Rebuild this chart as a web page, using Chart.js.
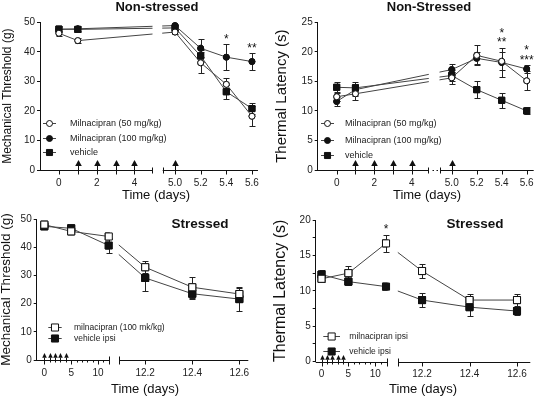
<!DOCTYPE html>
<html><head><meta charset="utf-8">
<script src="https://cdn.jsdelivr.net/npm/chart.js@4"></script>
<style>
html,body{margin:0;padding:0;background:#fff;}
#wrap{position:relative;width:540px;height:398px;overflow:hidden;}
canvas{position:absolute;left:0;top:0;}
</style></head><body>
<div id="wrap">
<canvas id="tl" width="540" height="398"></canvas>
<canvas id="tr" width="540" height="398"></canvas>
<canvas id="bl" width="540" height="398"></canvas>
<canvas id="br" width="540" height="398"></canvas>
</div>
<script>
// ---------------- data ----------------
const daysNS = [0, 1, 5.0, 5.2, 5.4, 5.6];
const mechNS_mil50      = [46.3, 43.8, 46.7, 36.3, 29.0, 18.2];
const mechNS_mil50_sem  = [0.9, 0.8, 0.8, 3.5, 2.0, 3.3];
const mechNS_mil100     = [47.6, 47.8, 48.9, 41.2, 38.2, 36.7];
const mechNS_mil100_sem = [0.8, 0.8, 0.6, 3.0, 4.3, 2.8];
const mechNS_veh        = [47.7, 47.6, 48.1, 38.6, 26.5, 20.8];
const mechNS_veh_sem    = [1.0, 0.8, 0.7, 2.0, 2.4, 2.0];

const thermNS_mil50      = [12.4, 12.9, 15.6, 19.4, 18.4, 15.1];
const thermNS_mil50_sem  = [0.8, 1.1, 1.0, 1.7, 1.5, 1.6];
const thermNS_mil100     = [11.6, 13.6, 17.0, 18.9, 18.2, 17.1];
const thermNS_mil100_sem = [0.7, 1.0, 1.0, 1.0, 2.5, 0.6];
const thermNS_veh        = [14.0, 13.9, 16.0, 13.6, 11.8, 10.0];
const thermNS_veh_sem    = [0.9, 1.0, 1.0, 1.4, 1.3, 0.6];

const daysS = [0, 5, 12, 12.2, 12.4, 12.6];
const mechS_mil     = [48.0, 45.6, 43.8, 32.9, 25.8, 23.4];
const mechS_mil_sem = [0.8, 1.0, 1.0, 2.2, 3.8, 2.3];
const mechS_veh     = [47.4, 46.7, 40.6, 29.1, 23.5, 21.6];
const mechS_veh_sem = [0.7, 0.8, 2.5, 4.7, 1.8, 4.2];

const thermS_mil     = [11.7, 12.5, 16.7, 12.8, 8.7, 8.7];
const thermS_mil_sem = [0.5, 0.95, 1.2, 1.0, 0.9, 0.8];
const thermS_veh     = [12.3, 11.3, 10.6, 8.7, 7.7, 7.15];
const thermS_veh_sem = [0.7, 0.5, 0.2, 0.95, 1.25, 0.5];

const xTicksNS  = [0, 1, 2, 3, 4, 5.0, 5.2, 5.4, 5.6];
const xLabelsNS = ['0', '', '2', '', '4', '5.0', '5.2', '5.4', '5.6'];
const xTicksS   = [0, 5, 10, 12.2, 12.4, 12.6];
const xLabelsS  = ['0', '5', '10', '12.2', '12.4', '12.6'];
const xMinorS   = [1, 2, 3, 4, 6, 7, 8, 9, 11];

const injectionDaysNS = [1, 2, 3, 4, 5.0];
const injectionDaysS  = [0, 1, 2, 3, 4];

const sigMechNS  = [{day: 5.4, marks: ['*']}, {day: 5.6, marks: ['**']}];
const sigThermNS = [{day: 5.4, marks: ['**', '*']}, {day: 5.6, marks: ['***', '*']}];
const sigThermS  = [{day: 12, marks: ['*']}];

// ---------------- styles / layout ----------------
const FONT = "'Liberation Sans', Arial, Helvetica, sans-serif";
Chart.defaults.font.family = FONT;
Chart.defaults.color = '#111';

const ST = {
  openCircle:   {pointStyle: 'circle', pointRadius: 3, pointBackgroundColor: '#fff'},
  filledCircle: {pointStyle: 'circle', pointRadius: 3, pointBackgroundColor: '#111'},
  smallSquare:  {pointStyle: 'rect',   pointRadius: 4.3, pointBackgroundColor: '#111'},
  openSquare:   {pointStyle: 'rect',   pointRadius: 5,   pointBackgroundColor: '#fff'},
  filledSquare: {pointStyle: 'rect',   pointRadius: 5,   pointBackgroundColor: '#111'}
};
function series(label, xs, ys, sem, style) {
  return Object.assign({
    label, sem,
    data: xs.map((x, i) => ({x, y: ys[i]})),
    borderColor: '#444', borderWidth: 1, pointBorderColor: '#111', pointBorderWidth: 1,
    fill: false, tension: 0, showLine: true
  }, style);
}

const PANELS = {
  tl: {
    panelLeft: 0, area: {left: 40, right: 258, top: 22.3, bottom: 170},
    segs: [{min: -1.0, max: 4.93, from: 0, to: 112}, {min: 4.904, max: 5.647, from: 122.7, to: 218}],
    breakH: 3, breakDots: false,
    yMin: 0, yMax: 50, yStep: 10, yEvery: 10,
    yTitle: 'Mechanical Threshold (g)', yTitleSize: 12, yTitlePad: 1.5,
    xTicks: xTicksNS, xLabels: xLabelsNS, xMinor: [],
    arrows: injectionDaysNS, arrow: {tip: 10.5, base: 4.5, half: 3.3},
    title: {text: 'Non-stressed', x: 157, y: 7, size: 13},
    xTitle: {x: 156, y: 195},
    legend: {x1: 43, x2: 56, tx: 70, rows: [122.7, 137.7, 152], size: 9},
    sig: sigMechNS,
    datasets: [
      series('Milnacipran (50 mg/kg)', daysNS, mechNS_mil50, mechNS_mil50_sem, ST.openCircle),
      series('Milnacipran (100 mg/kg)', daysNS, mechNS_mil100, mechNS_mil100_sem, ST.filledCircle),
      series('vehicle', daysNS, mechNS_veh, mechNS_veh_sem, ST.smallSquare)
    ]
  },
  tr: {
    panelLeft: 270, area: {left: 317.7, right: 533.7, top: 22.3, bottom: 170},
    segs: [{min: -1.013, max: 4.885, from: 0, to: 110.6}, {min: 4.906, max: 5.656, from: 122.3, to: 216}],
    breakH: 3, breakDots: true,
    yMin: 0, yMax: 25, yStep: 5, yEvery: 5,
    yTitle: 'Thermal Latency (s)', yTitleSize: 15, yTitlePad: 4.2,
    xTicks: xTicksNS, xLabels: xLabelsNS, xMinor: [],
    arrows: injectionDaysNS, arrow: {tip: 10.5, base: 4.5, half: 3.3},
    title: {text: 'Non-Stressed', x: 429, y: 7, size: 13},
    xTitle: {x: 427, y: 195},
    legend: {x1: 321, x2: 334, tx: 345, rows: [123.3, 139.7, 155], size: 9},
    sig: sigThermNS,
    datasets: [
      series('Milnacipran (50 mg/kg)', daysNS, thermNS_mil50, thermNS_mil50_sem, ST.openCircle),
      series('Milnacipran (100 mg/kg)', daysNS, thermNS_mil100, thermNS_mil100_sem, ST.filledCircle),
      series('vehicle', daysNS, thermNS_veh, thermNS_veh_sem, ST.smallSquare)
    ]
  },
  bl: {
    panelLeft: 0, area: {left: 36.7, right: 248.3, top: 219, bottom: 360},
    segs: [{min: -1.42, max: 12.1, from: 0, to: 72.6}, {min: 12.09, max: 12.638, from: 82.6, to: 211.6}],
    breakH: 4, breakDots: false,
    yMin: 0, yMax: 50, yStep: 10, yEvery: 10,
    yTitle: 'Mechanical Threshold (g)', yTitleSize: 13.5, yTitlePad: 0,
    xTicks: xTicksS, xLabels: xLabelsS, xMinor: xMinorS,
    arrows: injectionDaysS, arrow: {tip: 7.5, base: 2.8, half: 2.3},
    title: {text: 'Stressed', x: 200, y: 224, size: 13.5},
    xTitle: {x: 145, y: 389},
    legend: {x1: 48.3, x2: 61.7, tx: 74, rows: [327.3, 337.7], size: 8.5},
    sig: [],
    datasets: [
      series('milnacipran (100 mk/kg)', daysS, mechS_mil, mechS_mil_sem, ST.openSquare),
      series('vehicle ipsi', daysS, mechS_veh, mechS_veh_sem, ST.filledSquare)
    ]
  },
  br: {
    panelLeft: 270, area: {left: 315.7, right: 530, top: 220, bottom: 361.7},
    segs: [{min: -1.08, max: 12.2, from: 0, to: 71.4}, {min: 12.10, max: 12.656, from: 82.6, to: 214.6}],
    breakH: 4, breakDots: false,
    yMin: 0, yMax: 20, yStep: 2.5, yEvery: 5,
    yTitle: 'Thermal Latency (s)', yTitleSize: 16, yTitlePad: 3,
    xTicks: xTicksS, xLabels: xLabelsS, xMinor: xMinorS,
    arrows: injectionDaysS, arrow: {tip: 7.5, base: 2.8, half: 2.3},
    title: {text: 'Stressed', x: 475, y: 224, size: 13.5},
    xTitle: {x: 423, y: 389},
    legend: {x1: 323.3, x2: 340, tx: 349.3, rows: [336, 351], size: 8.5},
    sig: sigThermS,
    datasets: [
      series('milnacipran ipsi', daysS, thermS_mil, thermS_mil_sem, ST.openSquare),
      series('vehicle ipsi', daysS, thermS_veh, thermS_veh_sem, ST.filledSquare)
    ]
  }
};

// ---------------- broken linear scale ----------------
class BrokenScale extends Chart.LinearScale {
  _segs() { return PANELS[this.chart.canvas.id].segs; }
  getPixelForValue(value) {
    if (value === null || value === undefined || isNaN(value)) return NaN;
    const segs = this._segs(), L = this.left;
    let i = segs.length - 1;
    while (i > 0 && value < segs[i].min) i--;
    const s = segs[i];
    return L + s.from + (value - s.min) / (s.max - s.min) * (s.to - s.from);
  }
  getValueForPixel(pixel) {
    const segs = this._segs(), off = pixel - this.left;
    let i = segs.length - 1;
    while (i > 0 && off < segs[i].from) i--;
    const s = segs[i];
    return s.min + (off - s.from) / (s.to - s.from) * (s.max - s.min);
  }
}
BrokenScale.id = 'broken';
BrokenScale.defaults = Chart.LinearScale.defaults;
Chart.register(BrokenScale);

function strokeLine(ctx, x1, y1, x2, y2) {
  ctx.beginPath(); ctx.moveTo(x1, y1); ctx.lineTo(x2, y2); ctx.stroke();
}
function marker(ctx, ds, x, y) {
  ctx.save();
  ctx.fillStyle = ds.pointBackgroundColor; ctx.strokeStyle = ds.pointBorderColor; ctx.lineWidth = 1;
  ctx.beginPath();
  if (ds.pointStyle === 'circle') ctx.arc(x, y, ds.pointRadius, 0, Math.PI * 2);
  else { const s = ds.pointRadius * Math.SQRT1_2; ctx.rect(x - s, y - s, 2 * s, 2 * s); }
  ctx.fill(); ctx.stroke();
  ctx.restore();
}

const decor = {
  id: 'decor',
  afterDatasetsDraw(chart) {
    const P = PANELS[chart.canvas.id], ctx = chart.ctx, ca = chart.chartArea, ys = chart.scales.y;
    // break gap in the plot
    const gx0 = ca.left + P.segs[0].to + 0.5, gx1 = ca.left + P.segs[1].from - 0.5;
    ctx.save();
    ctx.fillStyle = '#fff';
    ctx.fillRect(gx0, ca.top - 4, gx1 - gx0, ca.bottom - ca.top + 3);
    // error bars
    ctx.strokeStyle = '#222'; ctx.lineWidth = 1;
    chart.data.datasets.forEach((ds, di) => {
      const meta = chart.getDatasetMeta(di);
      ds.data.forEach((p, j) => {
        const e = ds.sem[j]; if (!e) return;
        const cx = Math.round(meta.data[j].x) + 0.5;
        const y1 = Math.round(ys.getPixelForValue(p.y + e)) + 0.5;
        const y2 = Math.round(ys.getPixelForValue(p.y - e)) + 0.5;
        ctx.beginPath();
        ctx.moveTo(cx, y1); ctx.lineTo(cx, y2);
        ctx.moveTo(cx - 3, y1); ctx.lineTo(cx + 3, y1);
        ctx.moveTo(cx - 3, y2); ctx.lineTo(cx + 3, y2);
        ctx.stroke();
      });
    });
    ctx.restore();
    // markers on top of the bars (library point elements)
    for (let di = chart.data.datasets.length - 1; di >= 0; di--) {
      chart.getDatasetMeta(di).data.forEach(pt => pt.draw(ctx, ca));
    }
  },
  afterDraw(chart) {
    const P = PANELS[chart.canvas.id], ctx = chart.ctx, ca = chart.chartArea;
    const xs = chart.scales.x, ys = chart.scales.y;
    const by = Math.round(ca.bottom) + 0.5;
    ctx.save();
    ctx.strokeStyle = '#111'; ctx.fillStyle = '#111'; ctx.lineWidth = 1;
    // x axis segments
    P.segs.forEach(s => strokeLine(ctx, ca.left + s.from, by, ca.left + s.to, by));
    P.xTicks.forEach(v => { const x = Math.round(xs.getPixelForValue(v)) + 0.5; strokeLine(ctx, x, by, x, by + 4); });
    P.xMinor.forEach(v => { const x = Math.round(xs.getPixelForValue(v)) + 0.5; strokeLine(ctx, x, by, x, by + 2); });
    const e1 = Math.round(ca.left + P.segs[0].to) + 0.5, s2 = Math.round(ca.left + P.segs[1].from) + 0.5;
    strokeLine(ctx, e1, by - P.breakH, e1, by + P.breakH);
    strokeLine(ctx, s2, by - P.breakH, s2, by + P.breakH);
    if (P.breakDots) {
      for (let k = 1; k <= 2; k++) {
        const x = e1 + (s2 - e1) * k / 3;
        ctx.fillRect(Math.round(x) - 0.5, by - 0.5, 1.5, 1);
      }
    }
    // injection arrows
    const a = P.arrow;
    P.arrows.forEach(d => {
      const x = Math.round(xs.getPixelForValue(d)) + 0.5;
      strokeLine(ctx, x, by, x, by - a.base);
      ctx.beginPath();
      ctx.moveTo(x - a.half, by - a.base); ctx.lineTo(x + a.half, by - a.base); ctx.lineTo(x, by - a.tip);
      ctx.closePath(); ctx.fill();
    });
    // significance marks
    ctx.font = '12px ' + FONT; ctx.textAlign = 'center'; ctx.textBaseline = 'alphabetic';
    P.sig.forEach(sg => {
      let top = -Infinity, x = 0;
      chart.data.datasets.forEach((ds, di) => {
        const j = ds.data.findIndex(p => p.x === sg.day);
        if (j < 0) return;
        top = Math.max(top, ds.data[j].y + ds.sem[j]);
        x = chart.getDatasetMeta(di).data[j].x;
      });
      const py = ys.getPixelForValue(top);
      sg.marks.forEach((m, k) => ctx.fillText(m, x, py - 8.5 - k * 9.5 + 7));
    });
    // legend
    const L = P.legend;
    chart.data.datasets.forEach((ds, i) => {
      const y = Math.round(L.rows[i]) + 0.5;
      ctx.strokeStyle = ds.borderColor;
      strokeLine(ctx, L.x1, y, L.x2, y);
      marker(ctx, ds, (L.x1 + L.x2) / 2, y);
      ctx.fillStyle = '#222'; ctx.font = L.size + 'px ' + FONT;
      ctx.textAlign = 'left'; ctx.textBaseline = 'middle';
      ctx.fillText(ds.label, L.tx, y);
    });
    // titles
    ctx.fillStyle = '#111'; ctx.textAlign = 'center'; ctx.textBaseline = 'middle';
    ctx.font = 'bold ' + P.title.size + 'px ' + FONT;
    ctx.fillText(P.title.text, P.title.x, P.title.y);
    ctx.font = '13px ' + FONT;
    ctx.fillText('Time (days)', P.xTitle.x, P.xTitle.y);
    ctx.restore();
  }
};

function build(id) {
  const P = PANELS[id];
  const W = 540, H = 398, XH = 20;
  const yW = P.area.left - P.panelLeft;
  new Chart(document.getElementById(id), {
    type: 'line',
    data: {datasets: P.datasets},
    options: {
      responsive: false, animation: false, devicePixelRatio: 1, events: [],
      layout: {padding: {left: P.panelLeft, top: P.area.top, right: W - P.area.right, bottom: H - P.area.bottom - XH}},
      plugins: {legend: {display: false}, tooltip: {enabled: false}, title: {display: false}},
      scales: {
        x: {
          type: 'broken', min: P.segs[0].min, max: P.segs[P.segs.length - 1].max,
          afterBuildTicks: s => { s.ticks = P.xTicks.map(v => ({value: v})); },
          afterFit: s => { s.height = XH; },
          ticks: {autoSkip: false, maxRotation: 0, minRotation: 0, padding: 3, color: '#222',
                  font: {size: 10, family: FONT}, callback: (v, i) => P.xLabels[i]},
          grid: {display: true, drawOnChartArea: false, drawTicks: true, tickLength: 4, tickColor: 'rgba(0,0,0,0)', color: 'rgba(0,0,0,0)'},
          border: {display: false}
        },
        y: {
          min: P.yMin, max: P.yMax,
          afterFit: s => { s.width = yW; },
          ticks: {stepSize: P.yStep, padding: 2, color: '#222', font: {size: 10, family: FONT},
                  callback: v => (Math.abs(v / P.yEvery - Math.round(v / P.yEvery)) < 1e-9 ? String(v) : '')},
          grid: {drawOnChartArea: false, tickLength: 3, color: '#111', tickColor: '#111'},
          border: {display: true, color: '#111', width: 1},
          title: {display: true, text: P.yTitle, color: '#111',
                  font: {size: P.yTitleSize, family: FONT, lineHeight: 1}, padding: {top: P.yTitlePad, bottom: 0}}
        }
      }
    },
    plugins: [decor]
  });
}
['tl', 'tr', 'bl', 'br'].forEach(build);
</script>
</body></html>
